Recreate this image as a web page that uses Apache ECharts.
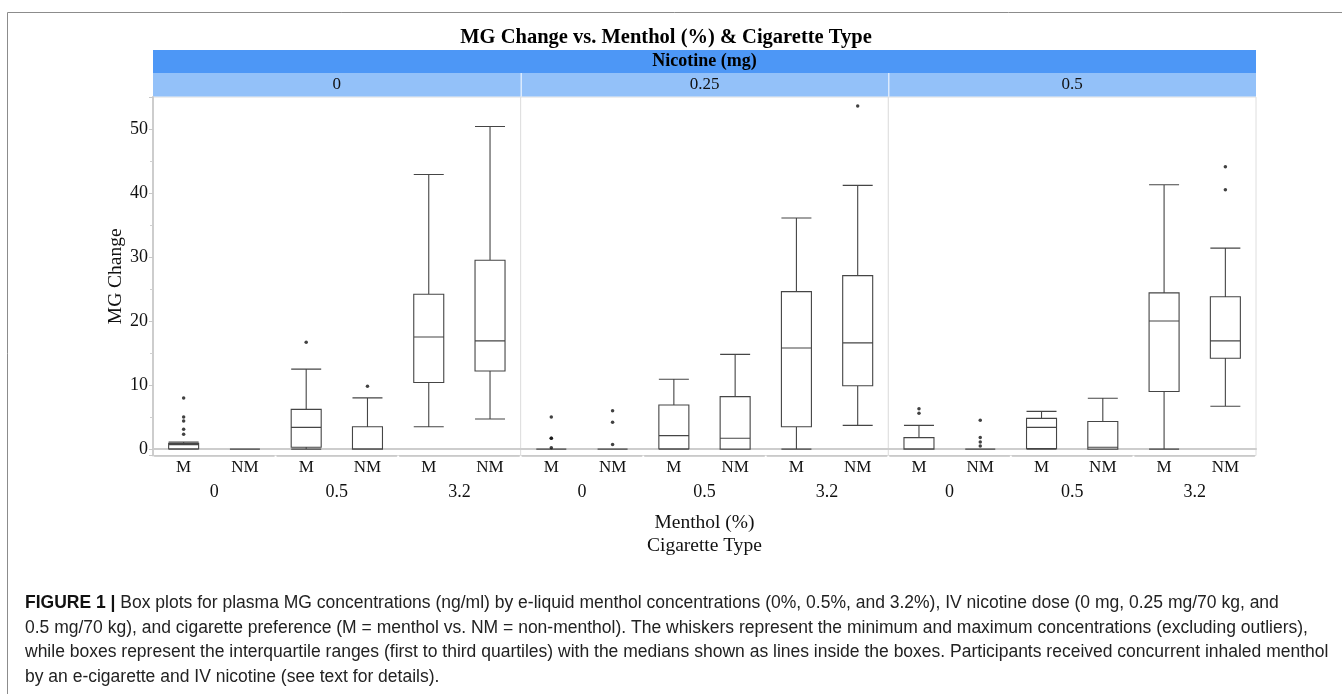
<!DOCTYPE html>
<html><head><meta charset="utf-8">
<script src="https://cdn.jsdelivr.net/npm/echarts@6/dist/echarts.min.js"></script>
<style>html,body{margin:0;padding:0;background:#fff;}#c{width:1342px;height:694px;}</style>
</head><body><div id="c"></div>
<script>
// ---- data ----
const cigaretteTypes = ['M', 'NM', 'M', 'NM', 'M', 'NM'];
const mentholLevels = ['0', '0.5', '3.2'];
const nicotineLevels = ['0', '0.25', '0.5'];
// box stats per cigarette type within each nicotine panel: [min, Q1, median, Q3, max]
const boxNic0 = [
  [0, 0.05, 0.7, 0.9, 1.1],
  [0, 0, 0, 0, 0],
  [0, 0.3, 3.4, 6.2, 12.5],
  [0, 0, 0.05, 3.5, 8.0],
  [3.5, 10.4, 17.5, 24.2, 42.9],
  [4.7, 12.2, 16.9, 29.5, 50.4]
];
const boxNic025 = [
  [0, 0, 0, 0, 0],
  [0, 0, 0, 0, 0],
  [0, 0.05, 2.1, 6.9, 10.9],
  [0, 0, 1.7, 8.2, 14.8],
  [0, 3.5, 15.8, 24.6, 36.1],
  [3.7, 9.9, 16.6, 27.1, 41.2]
];
const boxNic05 = [
  [0, 0, 0.05, 1.8, 3.7],
  [0, 0, 0, 0, 0],
  [0, 0.1, 3.4, 4.8, 5.9],
  [0, 0, 0.3, 4.3, 7.95],
  [0, 9.0, 20.0, 24.4, 41.3],
  [6.7, 14.2, 16.9, 23.8, 31.4]
];
// outliers: [category index, value]
const outNic0 = [[0, 8.0], [0, 5.0], [0, 4.4], [0, 3.1], [0, 2.3], [2, 16.7], [3, 9.8]];
const outNic025 = [[0, 5.0], [0, 1.7], [0, 1.7], [0, 0.2], [1, 6.0], [1, 4.2], [1, 0.7], [5, 53.6]];
const outNic05 = [[0, 6.3], [0, 5.6], [1, 4.5], [1, 1.8], [1, 1.1], [1, 0.5], [5, 44.1], [5, 40.5]];
const captionLines = [
  'Box plots for plasma MG concentrations (ng/ml) by e-liquid menthol concentrations (0%, 0.5%, and 3.2%), IV nicotine dose (0 mg, 0.25 mg/70 kg, and',
  '0.5 mg/70 kg), and cigarette preference (M = menthol vs. NM = non-menthol). The whiskers represent the minimum and maximum concentrations (excluding outliers),',
  'while boxes represent the interquartile ranges (first to third quartiles) with the medians shown as lines inside the boxes. Participants received concurrent inhaled menthol',
  'by an e-cigarette and IV nicotine (see text for details).'
];

// ---- layout ----
const SERIF = "'Liberation Serif','Times New Roman',serif";
const SANS = "'Liberation Sans',Arial,Helvetica,sans-serif";
const L = 153, R = 1256, T = 97, B = 455.5, H = 694;
const pw = (R - L) / 3;
const boxes = [boxNic0, boxNic025, boxNic05];
const outs = [outNic0, outNic025, outNic05];

const grids = [], xAxes = [], yAxes = [], series = [];
for (let i = 0; i < 3; i++) {
  grids.push({left: L + i * pw, width: pw, top: T, height: B - T, show: true,
    borderColor: '#dedede', borderWidth: 1, backgroundColor: '#fff', containLabel: false});
  xAxes.push({type: 'category', gridIndex: i, data: cigaretteTypes, position: 'bottom',
    axisLine: {show: true, lineStyle: {color: '#cdcdcd', width: 2}},
    axisTick: {show: false}, splitLine: {show: false},
    axisLabel: {fontFamily: SERIF, fontSize: 17, color: '#111', margin: 4, interval: 0}});
  const y = {type: 'value', gridIndex: i, min: -1, max: 55, splitLine: {show: false}};
  if (i === 0) {
    Object.assign(y, {
      axisLine: {show: true, lineStyle: {color: '#cdcdcd', width: 2}},
      axisTick: {show: true, length: 4, lineStyle: {color: '#c8c8c8'}},
      minorTick: {show: true, splitNumber: 2, length: 3, lineStyle: {color: '#d0d0d0'}},
      axisLabel: {fontFamily: SERIF, fontSize: 18, color: '#111', margin: 5, showMinLabel: false, showMaxLabel: false},
      name: 'MG Change', nameLocation: 'middle', nameGap: 26,
      nameTextStyle: {fontFamily: SERIF, fontSize: 19.5, color: '#111'}
    });
  } else {
    Object.assign(y, {axisLine: {show: false}, axisTick: {show: false}, axisLabel: {show: false}});
  }
  yAxes.push(y);
  series.push({type: 'boxplot', xAxisIndex: i, yAxisIndex: i, data: boxes[i], boxWidth: [30, 30],
    itemStyle: {color: '#fff', borderColor: '#454545', borderWidth: 1.1}, silent: true, z: 3});
  series.push({type: 'scatter', xAxisIndex: i, yAxisIndex: i, data: outs[i], symbolSize: 3.5,
    itemStyle: {color: '#111'}, silent: true, z: 4});
}
// menthol group axes (one per group, small gaps between)
const gw = pw / 3;
for (let p = 0; p < 3; p++) {
  for (let g = 0; g < 3; g++) {
    const idx = grids.length;
    grids.push({left: L + p * pw + g * gw + 1.5, width: gw - 3, top: T, height: B - T, show: false});
    xAxes.push({type: 'category', gridIndex: idx, data: [mentholLevels[g]], offset: 25, position: 'bottom',
      axisLine: {show: true, lineStyle: {color: '#c4c4c4', width: 1.5}}, axisTick: {show: false},
      axisLabel: {fontFamily: SERIF, fontSize: 18, color: '#111', margin: 3}});
    yAxes.push({type: 'value', gridIndex: idx, show: false});
  }
}

const graphics = [
  {type: 'polyline', shape: {points: [[7.5, H], [7.5, 12.5], [1342, 12.5]]}, style: {stroke: '#8c8c8c', lineWidth: 1, fill: null}, silent: true},
  {type: 'text', x: 666, y: 38, style: {text: 'MG Change vs. Menthol (%) & Cigarette Type', font: 'bold 20.5px ' + SERIF, fill: '#000', align: 'center', verticalAlign: 'middle'}},
  {type: 'rect', shape: {x: L, y: 50, width: R - L, height: 23}, style: {fill: '#4d97f6'}},
  {type: 'text', x: (L + R) / 2, y: 61.5, style: {text: 'Nicotine (mg)', font: 'bold 18px ' + SERIF, fill: '#000', align: 'center', verticalAlign: 'middle'}},
  {type: 'text', x: (L + R) / 2, y: 523, style: {text: 'Menthol (%)', font: '19.5px ' + SERIF, fill: '#111', align: 'center', verticalAlign: 'middle'}},
  {type: 'text', x: (L + R) / 2, y: 546, style: {text: 'Cigarette Type', font: '19.5px ' + SERIF, fill: '#111', align: 'center', verticalAlign: 'middle'}}
];
for (let p = 0; p < 3; p++) {
  graphics.push({type: 'rect', shape: {x: L + p * pw + (p ? 1 : 0), y: 73, width: pw - (p ? 1 : 0), height: 23.5}, style: {fill: '#93c1f9'}});
  graphics.push({type: 'text', x: L + p * pw + pw / 2, y: 85, style: {text: nicotineLevels[p], font: '17px ' + SERIF, fill: '#111', align: 'center', verticalAlign: 'middle'}});
}
const capY = [603, 628, 652.5, 677];
captionLines.forEach((line, k) => {
  const txt = k === 0 ? '{b|FIGURE 1 |} ' + line : line;
  graphics.push({type: 'text', x: 25, y: capY[k], style: {text: txt, font: '17.5px ' + SANS, fill: '#222', align: 'left', verticalAlign: 'middle',
    rich: {b: {font: 'bold 17.5px ' + SANS, fill: '#111'}}}});
});

const chart = echarts.init(document.getElementById('c'), null, {renderer: 'canvas'});
chart.setOption({
  animation: false,
  backgroundColor: '#fff',
  grid: grids, xAxis: xAxes, yAxis: yAxes, series: series,
  graphic: {elements: graphics}
});
</script></body></html>
